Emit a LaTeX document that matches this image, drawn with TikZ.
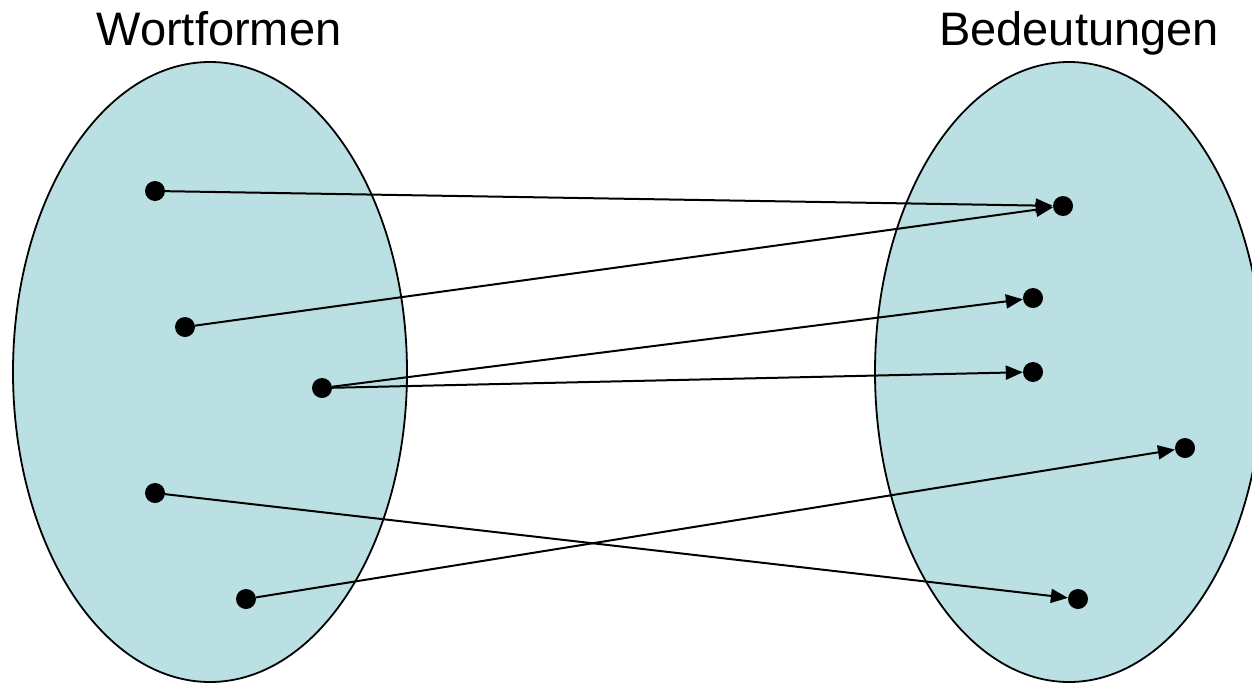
\documentclass[tikz,border=0pt]{standalone}
\usepackage{fontspec}
\setmainfont{Liberation Sans}
\usetikzlibrary{arrows.meta}
\definecolor{setfill}{RGB}{186,224,227}

\begin{document}
\begin{tikzpicture}[x=1pt,y=-1pt,
    menge/.style={draw,line width=1.8pt,fill=setfill},
    punkt/.style={circle,fill=black,inner sep=0pt,minimum size=20pt},
    pfeil/.style={line width=2pt,-{Triangle[length=17pt,width=14pt]}},
    titel/.style={anchor=base,font=\fontsize{47}{56}\selectfont}]
\useasboundingbox (0,0) rectangle (1252,683);
\draw[menge] (210,372) ellipse (197pt and 310pt);
\draw[menge] (1069,372) ellipse (194pt and 310pt);
\node[titel] (wf) at (219,45) {Wortformen};
\node[titel] (bd) at (1079,45) {Bedeutungen};
\foreach \n/\x/\y in {
            w1/155/191,
            w2/185/327,
            w3/322/388,
            w4/155/493,
            w5/246/599,
            b1/1063/206,
            b2/1033/298,
            b3/1033/372,
            b4/1185/448,
            b5/1078/599}
            \node[punkt] (\n) at (\x,\y) {};
\draw[pfeil] (w1) -- (b1);
\draw[pfeil] (w2) -- (b1);
\draw[pfeil] (w3) -- (b2);
\draw[pfeil] (w3) -- (b3);
\draw[pfeil] (w4) -- (b5);
\draw[pfeil] (w5) -- (b4);
\end{tikzpicture}
\end{document}
